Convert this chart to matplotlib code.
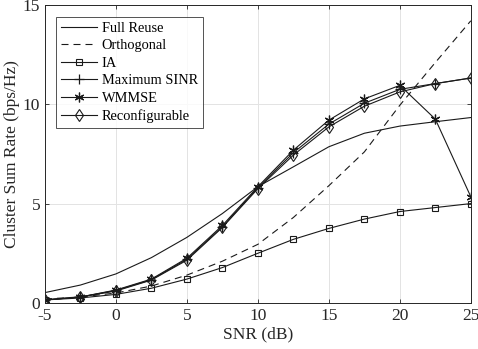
import matplotlib
matplotlib.use("Agg")
import matplotlib.pyplot as plt

snr = [-5, -2.5, 0, 2.5, 5, 7.5, 10, 12.5, 15, 17.5, 20, 22.5, 25]
full_reuse = [0.52, 0.9, 1.46, 2.28, 3.3, 4.5, 5.85, 6.85, 7.86, 8.54, 8.9, 9.12, 9.33]
orthogonal = [0.2, 0.3, 0.5, 0.85, 1.4, 2.1, 2.95, 4.3, 5.9, 7.6, 9.95, 12.1, 14.2]
ia = [0.15, 0.25, 0.43, 0.74, 1.2, 1.78, 2.5, 3.2, 3.75, 4.22, 4.6, 4.8, 5.0]
max_sinr = [0.15, 0.3, 0.63, 1.17, 2.2, 3.83, 5.8, 7.56, 9.0, 10.05, 10.75, 11.04, 11.32]
wmmse = [0.15, 0.3, 0.65, 1.2, 2.25, 3.9, 5.85, 7.69, 9.2, 10.27, 10.95, 9.25, 5.34]
reconf = [0.15, 0.3, 0.6, 1.15, 2.15, 3.8, 5.75, 7.44, 8.86, 9.9, 10.62, 11.04, 11.32]

xticks = [-5, 0, 5, 10, 15, 20, 25]
yticks = [0, 5, 10, 15]

plt.rcParams['font.family'] = ['Liberation Serif', 'DejaVu Serif']
plt.rcParams['mathtext.fontset'] = 'stix'

fig = plt.figure(figsize=(4.78, 3.49), dpi=100)
ax = fig.add_axes([0.094, 0.132, 0.891, 0.854])

lw = 0.8
ms = 5
c = '#1a1a1a'
ax.plot(snr, full_reuse, '-', color=c, lw=lw, label='Full Reuse')
ax.plot(snr, orthogonal, '--', color=c, lw=lw, dashes=(6.3, 4.5), label='Orthogonal')
ax.plot(snr, ia, '-', color=c, lw=lw, marker='s', ms=ms, mfc='none', mec=c, mew=0.8, label='IA')
ax.plot(snr, max_sinr, '-', color=c, lw=lw, marker='+', ms=7, mew=0.9, label='Maximum SINR')
ax.plot(snr, wmmse, '-', color=c, lw=lw, marker=(6, 2, 0), ms=7, mew=0.9, label='WMMSE')
ax.plot(snr, reconf, '-', color=c, lw=lw, marker='d', ms=6, mfc='none', mec=c, mew=0.8, label='Reconfigurable')

ax.set_xlim(-5, 25)
ax.set_ylim(0, 15)
ax.set_xticks(xticks)
ax.set_yticks(yticks)
ax.set_xticklabels([str(t) for t in xticks])
ax.set_yticklabels([str(t) for t in yticks])
ax.grid(True, color='#e3e3e3', lw=0.7)
ax.set_axisbelow(True)
ax.tick_params(direction='in', length=3, labelsize=12.5, color='#262626', labelcolor='#262626', top=True, right=True, width=0.6)
for s in ax.spines.values():
    s.set_color('#262626')
    s.set_linewidth(0.7)
ax.set_xlabel('SNR (dB)', fontsize=12.5, color='#262626', labelpad=2)
ax.set_ylabel('Cluster Sum Rate (bps/Hz)', fontsize=12.5, color='#262626', labelpad=2)

leg = ax.legend(loc='upper left', bbox_to_anchor=(0.026, 0.96), fontsize=10.4, frameon=True, fancybox=False,
                edgecolor='#262626', handlelength=2.5, handletextpad=0.3, labelspacing=0.3, borderpad=0.35,
                borderaxespad=0)
leg.get_frame().set_linewidth(0.7)

fig.savefig('out.png', dpi=100)
